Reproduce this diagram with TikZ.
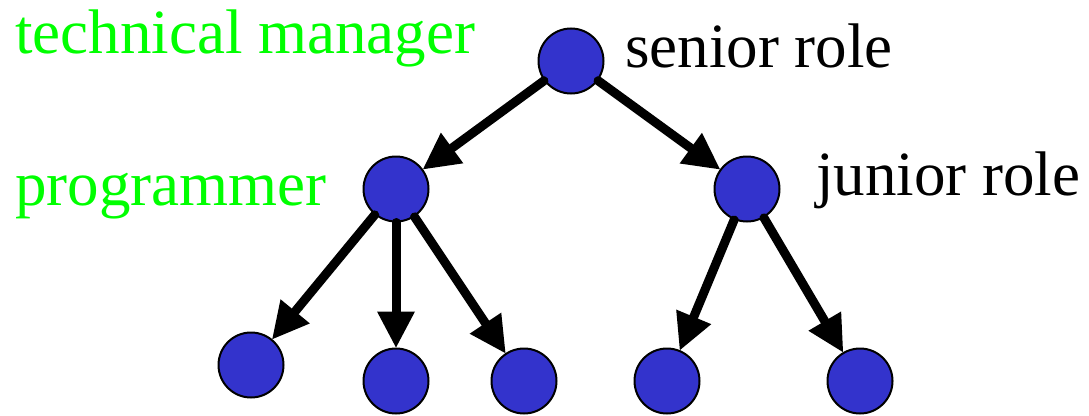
\documentclass[tikz,border=0pt]{standalone}
\usepackage{fontspec}
\setmainfont{Liberation Serif}
\usetikzlibrary{arrows.meta}
\definecolor{nodeblue}{RGB}{51,51,204}
\definecolor{rolegreen}{RGB}{0,255,0}
\tikzset{
  person/.style={circle, draw=black, line width=2pt, fill=nodeblue,
                 minimum size=65pt, inner sep=0pt},
  link/.style={line width=9pt, line cap=round,
               -{Triangle[length=36pt,width=38pt,line width=0pt]}},
  label/.style={anchor=base west, inner sep=0pt,
                font=\fontsize{63}{70}\selectfont},
  rolelabel/.style={label, text=rolegreen},
}
\begin{document}
\begin{tikzpicture}[x=1pt, y=-1pt]
  \useasboundingbox (0,0) rectangle (1089,415);

  % hierarchy of people
  \node[person] (top) at (571,61) {};
  \node[person] (lm)  at (396,189) {};
  \node[person] (rm)  at (747,189) {};
  \node[person] (b1)  at (251,365) {};
  \node[person] (b2)  at (396,381) {};
  \node[person] (b3)  at (524,381) {};
  \node[person] (b4)  at (667,381) {};
  \node[person] (b5)  at (860,381) {};

  % reporting lines
  \draw[link] (top) -- (lm);
  \draw[link] (top) -- (rm);
  \draw[link] (lm) -- (b1);
  \draw[link] (lm) -- (b2);
  \draw[link] (lm) -- (b3);
  \draw[link] (rm) -- (b4);
  \draw[link] (rm) -- (b5);

  % labels
  \node[rolelabel] (tm) at (15,53) {technical manager};
  \node[rolelabel] (pg) at (15,205) {programmer};
  \node[label] (sr) at (625,67) {senior role};
  \node[label] (jr) at (816,195) {junior role};
\end{tikzpicture}
\end{document}
